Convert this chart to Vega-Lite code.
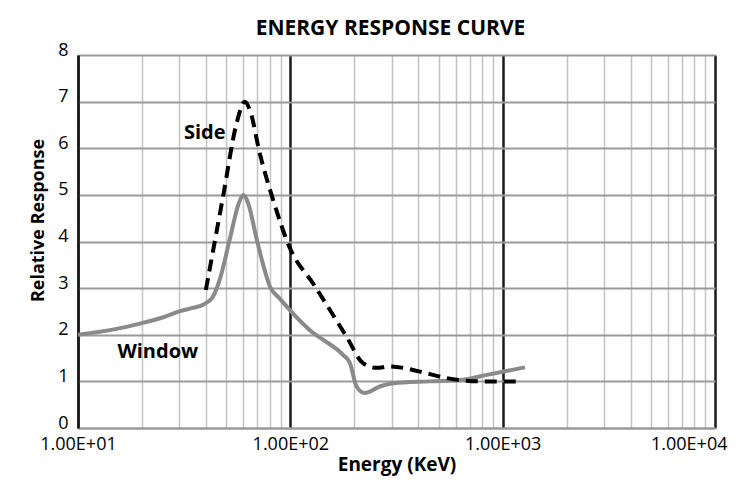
{
  "$schema": "https://vega.github.io/schema/vega-lite/v6.json",
  "width": 637,
  "height": 373,
  "autosize": {"type": "none"},
  "padding": {"left": 78, "top": 55, "right": 30, "bottom": 66},
  "background": "white",
  "title": {"text": "ENERGY RESPONSE CURVE", "font": "Open Sans", "fontSize": 21, "fontWeight": "bold", "color": "black", "offset": 14, "baseline": "alphabetic", "frame": "group", "dx": -6, "dy": 29},
  "config": {"view": {"stroke": null}, "font": "Open Sans"},
  "datasets": {
    "window": [
      {"energy": 10, "response": 2.0},
      {"energy": 15, "response": 2.12},
      {"energy": 20, "response": 2.25},
      {"energy": 25, "response": 2.37},
      {"energy": 30, "response": 2.5},
      {"energy": 35, "response": 2.58},
      {"energy": 39, "response": 2.65},
      {"energy": 43, "response": 2.8},
      {"energy": 46.5, "response": 3.18},
      {"energy": 51.8, "response": 4.04},
      {"energy": 57, "response": 4.8},
      {"energy": 60, "response": 5.0},
      {"energy": 64, "response": 4.75},
      {"energy": 69, "response": 4.1},
      {"energy": 75, "response": 3.45},
      {"energy": 80, "response": 3.04},
      {"energy": 89, "response": 2.78},
      {"energy": 99, "response": 2.54},
      {"energy": 128, "response": 2.04},
      {"energy": 143, "response": 1.89},
      {"energy": 177, "response": 1.57},
      {"energy": 191, "response": 1.39},
      {"energy": 205, "response": 0.89},
      {"energy": 224, "response": 0.75},
      {"energy": 264, "response": 0.89},
      {"energy": 305, "response": 0.96},
      {"energy": 454, "response": 1.0},
      {"energy": 652, "response": 1.035},
      {"energy": 841, "response": 1.14},
      {"energy": 1007, "response": 1.21},
      {"energy": 1274, "response": 1.3}
    ],
    "side": [
      {"energy": 40, "response": 2.96},
      {"energy": 48.2, "response": 4.96},
      {"energy": 55.8, "response": 6.53},
      {"energy": 61, "response": 7.0},
      {"energy": 64.5, "response": 6.82},
      {"energy": 71.8, "response": 5.89},
      {"energy": 83, "response": 4.89},
      {"energy": 99.5, "response": 3.86},
      {"energy": 128, "response": 3.1},
      {"energy": 184, "response": 1.96},
      {"energy": 220, "response": 1.39},
      {"energy": 255, "response": 1.29},
      {"energy": 294, "response": 1.32},
      {"energy": 408, "response": 1.21},
      {"energy": 545, "response": 1.07},
      {"energy": 781, "response": 1.0},
      {"energy": 1164, "response": 1.0}
    ],
    "labels": [
      {"label": "Side", "energy": 39.5, "response": 6.33},
      {"label": "Window", "energy": 23.75, "response": 1.635}
    ]
  },
  "encoding": {
    "x": {
      "field": "energy", "type": "quantitative",
      "scale": {"type": "log", "domain": [10, 10000]},
      "axis": {
        "values": [10, 20, 30, 40, 50, 60, 70, 80, 90, 100, 200, 300, 400, 500, 600, 700, 800, 900, 1000, 2000, 3000, 4000, 5000, 6000, 7000, 8000, 9000, 10000],
        "labelExpr": "datum.value == 10 ? '1.00E+01' : datum.value == 100 ? '1.00E+02' : datum.value == 1000 ? '1.00E+03' : datum.value == 10000 ? '1.00E+04' : ''",
        "labelOverlap": false,
        "labelBound": false,
        "labelFlush": false,
        "labelAlign": {"condition": {"test": "datum.value == 10000", "value": "right"}, "value": "center"},
        "labelOffset": {"condition": {"test": "datum.value == 10000", "value": 12}, "value": 0},
        "grid": true,
        "gridColor": {"condition": {"test": "datum.value == 10 || datum.value == 100 || datum.value == 1000 || datum.value == 10000", "value": "#1a1a1a"}, "value": "#c4c4c4"},
        "gridWidth": {"condition": {"test": "datum.value == 10 || datum.value == 100 || datum.value == 1000 || datum.value == 10000", "value": 2.5}, "value": 1.5},
        "ticks": false,
        "domainColor": "#9a9a9a",
        "domainWidth": 2,
        "labelFont": "Open Sans",
        "labelFontSize": 18,
        "labelColor": "black",
        "labelPadding": 7,
        "title": "Energy (KeV)",
        "titleFont": "Open Sans",
        "titleFontSize": 19,
        "titleFontWeight": "bold",
        "titleColor": "black",
        "titlePadding": 2
      }
    },
    "y": {
      "field": "response", "type": "quantitative",
      "scale": {"domain": [0, 8]},
      "axis": {
        "values": [0, 1, 2, 3, 4, 5, 6, 7, 8],
        "grid": true,
        "gridColor": "#9a9a9a",
        "gridWidth": 2,
        "ticks": false,
        "domainColor": "#1a1a1a",
        "domainWidth": 2.5,
        "labelFont": "Open Sans",
        "labelFontSize": 18,
        "labelColor": "black",
        "labelPadding": 10,
        "labelOffset": -5,
        "labelBound": false,
        "labelFlush": false,
        "title": "Relative Response",
        "titleFont": "Open Sans",
        "titleFontSize": 18,
        "titleFontWeight": "bold",
        "titleColor": "black",
        "titlePadding": 10,
        "titleY": 165
      }
    }
  },
  "layer": [
    {
      "data": {"name": "window"},
      "mark": {"type": "line", "color": "#8a8a8a", "strokeWidth": 4, "interpolate": "monotone"}
    },
    {
      "data": {"name": "side"},
      "mark": {"type": "line", "color": "black", "strokeWidth": 4, "strokeDash": [12, 7], "interpolate": "monotone"}
    },
    {
      "data": {"name": "labels"},
      "mark": {"type": "text", "font": "Open Sans", "fontSize": 20, "fontWeight": "bold", "color": "black", "align": "center", "baseline": "middle"},
      "encoding": {
        "text": {"field": "label", "type": "nominal"}
      }
    }
  ]
}
